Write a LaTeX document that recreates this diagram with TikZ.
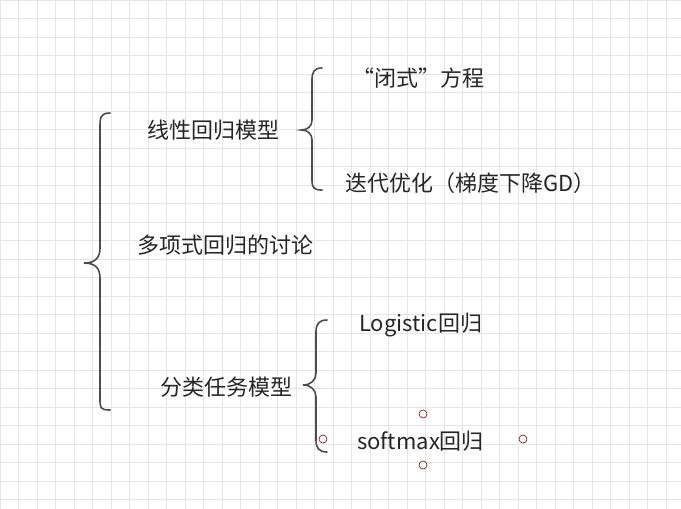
\documentclass[tikz,border=0pt]{standalone}
\usepackage{fontspec}
\setmainfont{Noto Sans CJK SC}
\tikzset{
    lbl/.style={anchor=west, inner sep=0pt, font=\fontsize{22}{24}\selectfont, text=black!85},
    brace/.style={line width=1.6pt, draw=black!70, line cap=round},
    handle/.style={draw=red!50!black, fill=white, line width=0.6pt}
}
\begin{document}
\begin{tikzpicture}[x=1pt, y=-1pt]
    % the frame
    \useasboundingbox (0,0) rectangle (681,509);
    \fill[white] (0,0) rectangle (681,509);
    \foreach \i in {0,...,37} {
        \draw[black!10, line width=0.6pt] ({\i*18.5}, 0) -- ({\i*18.5}, 509);
    };
    \foreach \j in {0,...,27} {
        \draw[black!10, line width=0.6pt] (0, {\j*18.5}) -- (681, {\j*18.5});
    };

    % braces
    \draw[brace] (110,113) .. controls (100,113) and (100,118) .. (100,128) -- (100,248)
        .. controls (100,258) and (95,263) .. (84,263)
        .. controls (95,263) and (100,268) .. (100,278) -- (100,398)
        .. controls (100,408) and (100,410) .. (110,410);
    \draw[brace] (322,68) .. controls (314,68) and (312,72) .. (312,80) -- (312,120)
        .. controls (312,126) and (308,130) .. (301,130)
        .. controls (308,130) and (312,134) .. (312,140) -- (312,180)
        .. controls (312,188) and (314,190) .. (322,190);
    \draw[brace] (327,320) .. controls (319,320) and (316,324) .. (316,332) -- (316,373)
        .. controls (316,380) and (311,385) .. (303,385)
        .. controls (311,385) and (316,390) .. (316,397) -- (316,440)
        .. controls (316,448) and (319,452) .. (327,452);

    % labels
    \node[lbl] (linear) at (147,130) {线性回归模型};
    \node[lbl] (poly) at (137,245) {多项式回归的讨论};
    \node[lbl] (cls) at (160,387) {分类任务模型};
    \node[lbl] (closed) at (352,78) {“闭式"方程};
    \node[lbl] (gd) at (345,183) {迭代优化（梯度下降GD）};
    \node[lbl] (logit) at (359,325) {Logistic回归};
    \node[lbl] (soft) at (357,441) {softmax回归};

    % handles
    \foreach \p in {(423,414), (323,439), (523,439), (423,465)} {
        \draw[handle] \p circle (4);
    };
\end{tikzpicture}
\end{document}
